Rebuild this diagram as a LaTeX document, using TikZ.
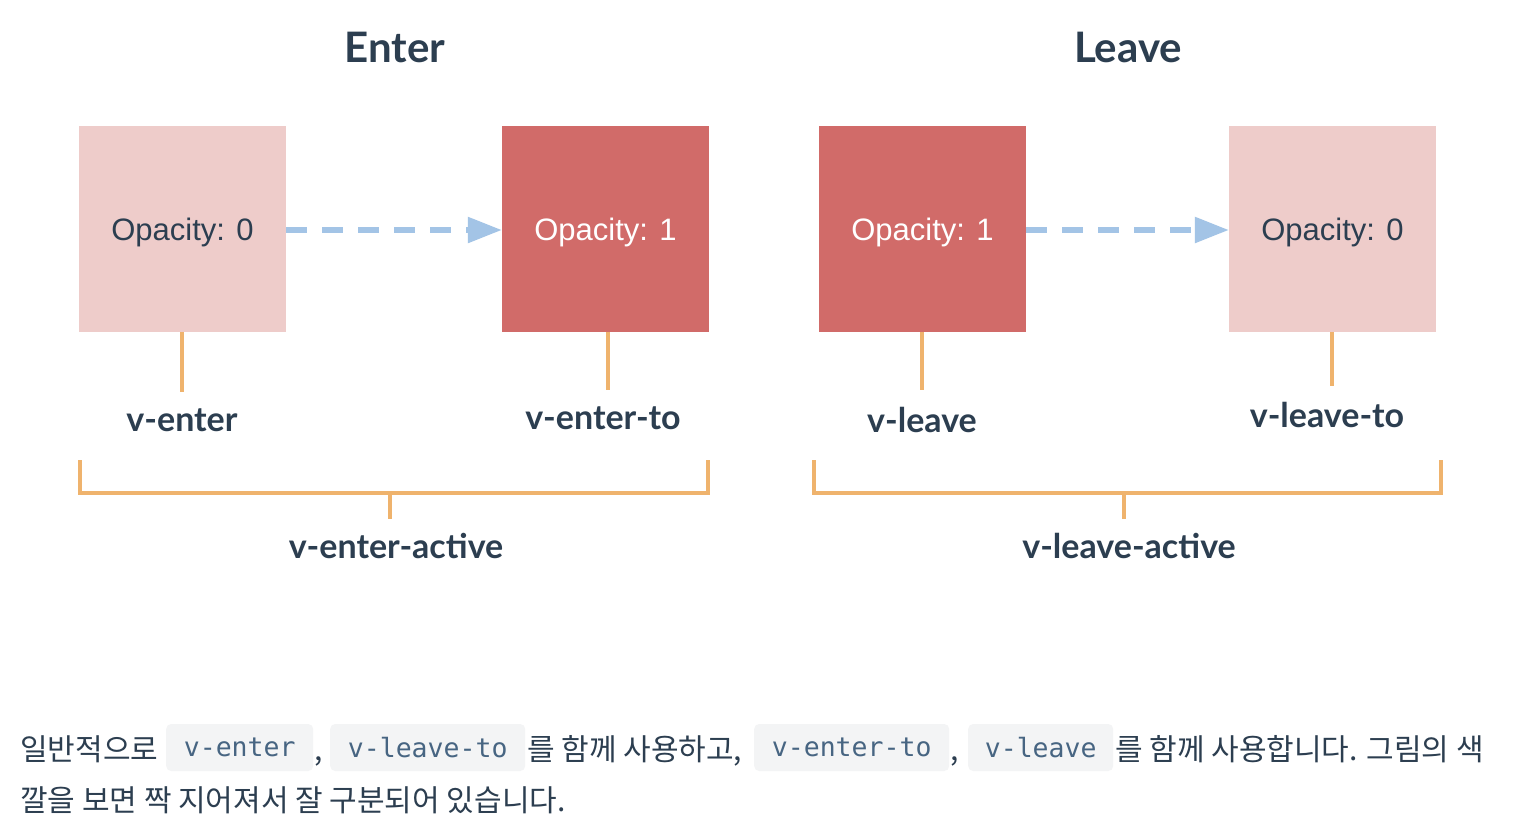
\documentclass[tikz,border=0pt]{standalone}
\usepackage{fontspec}
\usetikzlibrary{arrows.meta}
\newfontfamily\labfont{Lato}
\newfontfamily\opfont{Liberation Sans}
\newfontfamily\krfont{Noto Sans CJK KR}
\newfontfamily\codefont{DejaVu Sans Mono}
\definecolor{darktext}{HTML}{2C3E50}
\definecolor{pinkbox}{HTML}{EECCCA}
\definecolor{redbox}{HTML}{D16B69}
\definecolor{orangeln}{HTML}{EFB36D}
\definecolor{bluearr}{HTML}{A3C4E6}
\definecolor{codetext}{HTML}{476582}
\definecolor{codebg}{HTML}{F3F4F5}
\tikzset{
  lightbox/.style={fill=pinkbox, draw=none, minimum width=207pt, minimum height=206pt, inner sep=0pt,
    text=darktext, text depth=0pt, font=\opfont\fontsize{31}{37}\selectfont},
  darkbox/.style={lightbox, fill=redbox, text=white},
  title/.style={text=darktext, font=\labfont\bfseries\fontsize{42}{50}\selectfont},
  lab/.style={text=darktext, font=\labfont\bfseries\fontsize{34}{40}\selectfont},
  stem/.style={draw=orangeln, line width=4pt},
  bracket/.style={draw=orangeln, line width=4pt},
  dasharrow/.style={draw=bluearr, line width=5.5pt, dash pattern=on 21pt off 15pt,
    -{Triangle[length=34pt,width=25pt]}},
  kr/.style={text=darktext, font=\krfont\fontsize{30}{36}\selectfont, inner sep=0pt, anchor=base west},
  code/.style={fill=codebg, rounded corners=5pt, text=codetext, font=\codefont\fontsize{26.5}{32}\selectfont,
    minimum height=47pt, inner xsep=0pt, anchor=west, text depth=0pt}
}
\begin{document}
\begin{tikzpicture}[x=1pt,y=-1pt]
\useasboundingbox[fill=white] (0,0) rectangle (1526,830);
% titles
\node[title] (tenter) at (395,47) {Enter};
\node[title] (tleave) at (1128,47) {Leave};
% boxes
\node[lightbox] (b1) at (182.5,229) {Opacity: 0};
\node[darkbox]  (b2) at (605.5,229) {Opacity: 1};
\node[darkbox]  (b3) at (922.5,229) {Opacity: 1};
\node[lightbox] (b4) at (1332.5,229) {Opacity: 0};
% arrows
\draw[dasharrow] (b1.east |- 0,230) -- (b2.west |- 0,230);
\draw[dasharrow] (b3.east |- 0,230) -- (b4.west |- 0,230);
% stems
\coordinate (s1) at (182,392);
\coordinate (s2) at (608,390);
\coordinate (s3) at (922,390);
\coordinate (s4) at (1332,386);
\draw[stem] (b1.south -| s1) -- (s1);
\draw[stem] (b2.south -| s2) -- (s2);
\draw[stem] (b3.south -| s3) -- (s3);
\draw[stem] (b4.south -| s4) -- (s4);
% labels
\node[lab] (l1) at (182,420) {v-enter};
\node[lab] (l2) at (603,418) {v-enter-to};
\node[lab] (l3) at (922,420) {v-leave};
\node[lab] (l4) at (1327,415) {v-leave-to};
% brackets
\draw[bracket] (80,460) -- (80,493) -- (708,493) -- (708,460);
\draw[bracket] (390,493) -- (390,519);
\draw[bracket] (814,460) -- (814,493) -- (1441,493) -- (1441,460);
\draw[bracket] (1124,493) -- (1124,519);
\node[lab] (la) at (396,546) {v-enter-active};
\node[lab] (lb) at (1129,546) {v-leave-active};
% bottom text
\node[kr] (t1) at (20,760) {일반적으로};
\node[code, minimum width=147pt] (c1) at (166,747.5) {v-enter};
\node[kr] (t2) at (314,760) {,};
\node[code, minimum width=195pt] (c2) at (330,747.5) {v-leave-to};
\node[kr] (t3) at (527,760) {를 함께 사용하고,};
\node[code, minimum width=195pt] (c3) at (754,747.5) {v-enter-to};
\node[kr] (t4) at (950,760) {,};
\node[code, minimum width=145pt] (c4) at (968,747.5) {v-leave};
\node[kr] (t5) at (1115,760) {를 함께 사용합니다. 그림의 색};
\node[kr] (t6) at (20,811) {깔을 보면 짝 지어져서 잘 구분되어 있습니다.};
\end{tikzpicture}
\end{document}
